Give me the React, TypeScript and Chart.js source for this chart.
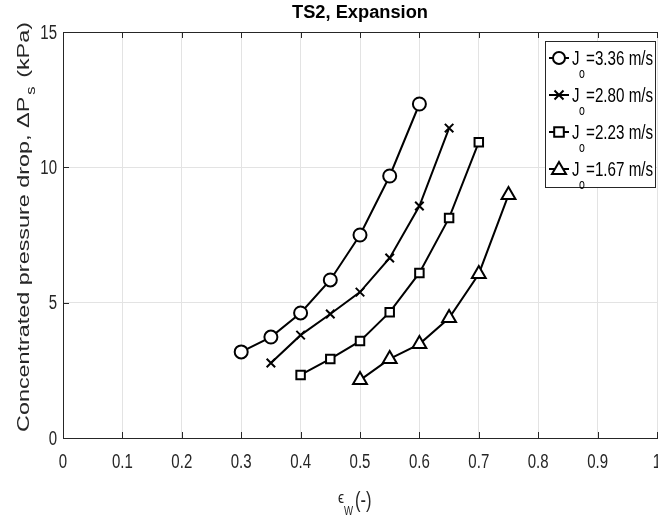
import React, { useEffect, useRef } from "react";
import { Chart, registerables } from "chart.js";

Chart.register(...registerables);

const xCircle = [0.3, 0.35, 0.4, 0.45, 0.5, 0.55, 0.6];
const yCircle = [3.18, 3.73, 4.62, 5.84, 7.5, 9.68, 12.34];
const xCross = [0.35, 0.4, 0.45, 0.5, 0.55, 0.6, 0.65];
const yCross = [2.77, 3.8, 4.58, 5.39, 6.65, 8.57, 11.45];
const xSquare = [0.4, 0.45, 0.5, 0.55, 0.6, 0.65, 0.7];
const ySquare = [2.33, 2.92, 3.58, 4.65, 6.1, 8.13, 10.93];
const xTri = [0.5, 0.55, 0.6, 0.65, 0.7, 0.75];
const yTri = [2.14, 2.92, 3.47, 4.43, 6.06, 8.98];

const legendValues = ["=3.36 m/s", "=2.80 m/s", "=2.23 m/s", "=1.67 m/s"];
const pointStyles = ["circle", "crossRot", "rect", "triangle"];
const xTicks = [0, 0.1, 0.2, 0.3, 0.4, 0.5, 0.6, 0.7, 0.8, 0.9, 1];
const xTickLabels = ["0", "0.1", "0.2", "0.3", "0.4", "0.5", "0.6", "0.7", "0.8", "0.9", "1"];
const yTicks = [0, 5, 10, 15];
const yTickLabels = ["0", "5", "10", "15"];

const FONT = "'Liberation Sans', Arial, sans-serif";

function textC(
  ctx: CanvasRenderingContext2D,
  s: string,
  x: number,
  y: number,
  font: string,
  align: "left" | "center" | "right",
  base: CanvasTextBaseline,
  sx: number
) {
  ctx.save();
  ctx.font = font;
  ctx.textBaseline = base;
  ctx.textAlign = "left";
  const w = ctx.measureText(s).width * sx;
  let x0 = x;
  if (align === "center") x0 = x - w / 2;
  if (align === "right") x0 = x - w;
  ctx.translate(x0, y);
  ctx.scale(sx, 1);
  ctx.fillText(s, 0, 0);
  ctx.restore();
  return w;
}

function drawMarker(ctx: CanvasRenderingContext2D, style: string, x: number, y: number, r: number) {
  ctx.save();
  ctx.lineWidth = 2;
  ctx.strokeStyle = "#000";
  ctx.fillStyle = "#fff";
  ctx.beginPath();
  if (style === "circle") {
    ctx.arc(x, y, r, 0, Math.PI * 2);
    ctx.fill();
    ctx.stroke();
  } else if (style === "rect") {
    ctx.rect(x - r * 0.8, y - r * 0.8, r * 1.6, r * 1.6);
    ctx.fill();
    ctx.stroke();
  } else if (style === "triangle") {
    ctx.moveTo(x, y - r);
    ctx.lineTo(x + r, y + r * 0.7);
    ctx.lineTo(x - r, y + r * 0.7);
    ctx.closePath();
    ctx.fill();
    ctx.stroke();
  } else {
    const d = r * 0.75;
    ctx.moveTo(x - d, y - d);
    ctx.lineTo(x + d, y + d);
    ctx.moveTo(x + d, y - d);
    ctx.lineTo(x - d, y + d);
    ctx.stroke();
  }
  ctx.restore();
}

const decorPlugin = {
  id: "decor",
  afterDraw(chart: any) {
    const ctx: CanvasRenderingContext2D = chart.ctx;
    const { left, right, top, bottom } = chart.chartArea;
    const xs = chart.scales.x;
    const ys = chart.scales.y;
    ctx.save();
    ctx.strokeStyle = "#262626";
    ctx.lineWidth = 1;
    ctx.beginPath();
    ctx.moveTo(left, top + 0.5);
    ctx.lineTo(right, top + 0.5);
    xTicks.forEach((t) => {
      const px = Math.round(xs.getPixelForValue(t)) + 0.5;
      ctx.moveTo(px, top);
      ctx.lineTo(px, top + 6);
      ctx.moveTo(px, bottom);
      ctx.lineTo(px, bottom - 6);
    });
    yTicks.forEach((t) => {
      const py = Math.round(ys.getPixelForValue(t)) + 0.5;
      ctx.moveTo(left, py);
      ctx.lineTo(left + 6, py);
    });
    ctx.stroke();

    // tick labels
    ctx.fillStyle = "#262626";
    xTicks.forEach((t, i) => {
      textC(ctx, xTickLabels[i], xs.getPixelForValue(t), 462, `20px ${FONT}`, "center", "middle", 0.75);
    });
    yTicks.forEach((t, i) => {
      textC(ctx, yTickLabels[i], 57, ys.getPixelForValue(t) + 1, `20px ${FONT}`, "right", "middle", 0.75);
    });

    // title centred over the axes
    ctx.fillStyle = "#000";
    ctx.font = `bold 18px ${FONT}`;
    const tw = ctx.measureText("TS2, Expansion").width;
    textC(ctx, "TS2, Expansion", (left + right) / 2, 13, `bold 18px ${FONT}`, "center", "middle", 136 / tw);

    // x axis label
    ctx.fillStyle = "#262626";
    textC(ctx, "\u03f5", 338, 503, `17px ${FONT}`, "left", "alphabetic", 0.8);
    textC(ctx, "W", 344, 515, `12px ${FONT}`, "left", "alphabetic", 0.8);
    textC(ctx, "(-)", 355, 507, `22px ${FONT}`, "left", "alphabetic", 0.75);

    // y axis label (wide letters)
    ctx.save();
    ctx.translate(29, 227);
    ctx.rotate(-Math.PI / 2);
    const p1 = "Concentrated pressure drop, \u0394P";
    const p3 = " (kPa)";
    ctx.font = `17px ${FONT}`;
    const w1 = ctx.measureText(p1).width;
    const w3 = ctx.measureText(p3).width;
    ctx.font = `12px ${FONT}`;
    const wS = ctx.measureText("s").width + 3;
    const natural = w1 + wS + w3;
    const sx = 410 / natural;
    ctx.scale(sx, 1);
    let cx = -natural / 2;
    ctx.textBaseline = "alphabetic";
    ctx.textAlign = "left";
    ctx.font = `17px ${FONT}`;
    ctx.fillText(p1, cx, 0);
    cx += w1;
    ctx.font = `12px ${FONT}`;
    ctx.fillText("s", cx + 1.5, 6);
    cx += wS;
    ctx.font = `17px ${FONT}`;
    ctx.fillText(p3, cx, 0);
    ctx.restore();

    // legend
    const bx = 545.5, by = 41.5, bw = 110, bh = 146;
    ctx.fillStyle = "#fff";
    ctx.fillRect(bx, by, bw, bh);
    ctx.strokeStyle = "#262626";
    ctx.lineWidth = 1;
    ctx.strokeRect(bx, by, bw, bh);
    const rows = [58, 95, 132, 169];
    rows.forEach((ry, i) => {
      ctx.strokeStyle = "#000";
      ctx.lineWidth = 2;
      ctx.beginPath();
      ctx.moveTo(549, ry);
      ctx.lineTo(569, ry);
      ctx.stroke();
      drawMarker(ctx, pointStyles[i], 559, ry, i === 3 ? 7 : 6);
      ctx.fillStyle = "#000";
      textC(ctx, "J", 572, ry + 7, `20px ${FONT}`, "left", "alphabetic", 0.75);
      textC(ctx, "o", 579, ry + 20, `14px ${FONT}`, "left", "alphabetic", 0.75);
      textC(ctx, legendValues[i], 586, ry + 7, `20px ${FONT}`, "left", "alphabetic", 0.76);
    });
    ctx.restore();
  },
};

function makeSet(xs: number[], ys: number[], style: string, r: number) {
  return {
    data: xs.map((x, i) => ({ x, y: ys[i] })),
    borderColor: "#000",
    backgroundColor: "#fff",
    borderWidth: 2,
    pointStyle: style,
    pointRadius: r,
    pointBorderWidth: 2,
    pointBorderColor: "#000",
    pointBackgroundColor: "#fff",
    showLine: true,
    tension: 0,
  };
}

export default function App() {
  const ref = useRef<HTMLCanvasElement>(null);
  useEffect(() => {
    const chart = new Chart(ref.current!, {
      type: "scatter",
      data: {
        datasets: [
          makeSet(xCircle, yCircle, "circle", 6.5),
          makeSet(xCross, yCross, "crossRot", 6),
          makeSet(xSquare, ySquare, "rect", 6),
          makeSet(xTri, yTri, "triangle", 8),
        ] as any,
      },
      options: {
        animation: false,
        responsive: false,
        layout: { autoPadding: false, padding: { top: 32, right: 1, left: 0, bottom: 0 } },
        plugins: { legend: { display: false }, tooltip: { enabled: false }, title: { display: false } },
        scales: {
          x: {
            type: "linear",
            min: 0,
            max: 1,
            afterFit: (s: any) => { s.height = 85; s.paddingLeft = 0; s.paddingRight = 0; },
            afterBuildTicks: (s: any) => { s.ticks = xTicks.map((v) => ({ value: v })); },
            ticks: { display: false },
            grid: { color: "#e3e3e3", drawTicks: false },
            border: { color: "#262626", width: 1 },
          },
          y: {
            min: 0,
            max: 15,
            afterFit: (s: any) => { s.width = 63; s.paddingTop = 0; s.paddingBottom = 0; },
            afterBuildTicks: (s: any) => { s.ticks = yTicks.map((v) => ({ value: v })); },
            ticks: { display: false },
            grid: { color: "#e3e3e3", drawTicks: false },
            border: { color: "#262626", width: 1 },
          },
        },
      } as any,
      plugins: [decorPlugin],
    });
    return () => chart.destroy();
  }, []);
  return (
    <div style={{ position: "fixed", left: 0, top: 0, width: 658, height: 523, background: "#fff" }}>
      <canvas ref={ref} width={658} height={523} style={{ width: 658, height: 523 }} />
    </div>
  );
}
